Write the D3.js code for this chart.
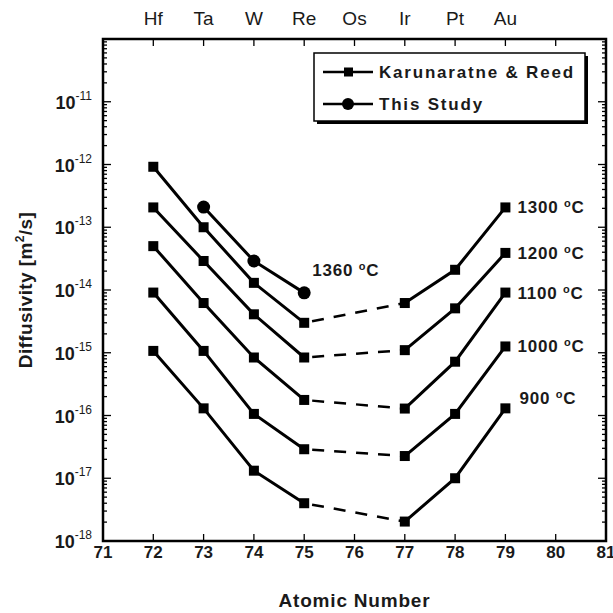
<!DOCTYPE html>
<html>
<head>
<meta charset="utf-8">
<script src="https://cdn.jsdelivr.net/npm/d3@7"></script>
<style>
  html, body { margin: 0; padding: 0; background: #fff; }
  svg { display: block; font-family: "Liberation Sans", Arial, sans-serif; }
</style>
</head>
<body>
<svg id="chart" width="613" height="613"></svg>
<script>
// Atomic numbers measured (Os, 76, has no data)
const atomicNumbers = [72, 73, 74, 75, 77, 78, 79];
// Diffusivity (m^2/s), Karunaratne & Reed, by temperature
const d1300 = [9.2e-13, 1.0e-13, 1.3e-14, 3.0e-15, 6.2e-15, 2.1e-14, 2.07e-13];
const d1200 = [2.07e-13, 2.9e-14, 4.1e-15, 8.4e-16, 1.1e-15, 5.1e-15, 3.9e-14];
const d1100 = [5.0e-14, 6.2e-15, 8.4e-16, 1.77e-16, 1.29e-16, 7.2e-16, 9.1e-15];
const d1000 = [9.1e-15, 1.07e-15, 1.06e-16, 2.9e-17, 2.26e-17, 1.06e-16, 1.26e-15];
const d900  = [1.07e-15, 1.3e-16, 1.32e-17, 4.0e-18, 2.04e-18, 1.0e-17, 1.3e-16];
const seriesLabels = ["1300", "1200", "1100", "1000", "900"];
// This study, 1360 °C
const studyNumbers = [73, 74, 75];
const d1360 = [2.1e-13, 2.9e-14, 9.0e-15];
const studyLabel = "1360";
// Element symbols for the top axis
const elementNumbers = [72, 73, 74, 75, 76, 77, 78, 79];
const elementSymbols = ["Hf", "Ta", "W", "Re", "Os", "Ir", "Pt", "Au"];
// Axis ticks
const xTicks = [71, 72, 73, 74, 75, 76, 77, 78, 79, 80, 81];
const yExponents = [-11, -12, -13, -14, -15, -16, -17, -18];
const legendLabels = ["Karunaratne & Reed", "This Study"];

const svg = d3.select("#chart");
const plotLeft = 103, plotRight = 606, plotTop = 39, plotBottom = 541;
const textColor = "#1a1a1a";

const x = d3.scaleLinear().domain([71, 81]).range([plotLeft, plotRight]);
const y = d3.scaleLog().domain([1e-18, 1e-10]).range([plotBottom, plotTop]);

// Minor and major log ticks on the left and right frame edges
const minorVals = [];
for (let e = -18; e < -10; e++) {
  for (let m = 2; m <= 9; m++) minorVals.push(m * Math.pow(10, e));
}
const majorVals = d3.range(-18, -9).map(e => Math.pow(10, e));

const tickG = svg.append("g").attr("stroke", "#000").attr("stroke-width", 1.3);
[plotLeft, plotRight].forEach(edge => {
  const dir = edge === plotLeft ? 1 : -1;
  tickG.selectAll(null).data(minorVals).join("line")
    .attr("x1", edge).attr("x2", edge + dir * 4)
    .attr("y1", d => y(d)).attr("y2", d => y(d));
  tickG.selectAll(null).data(majorVals).join("line")
    .attr("x1", edge).attr("x2", edge + dir * 8)
    .attr("y1", d => y(d)).attr("y2", d => y(d));
});
// Integer ticks along the top and bottom edges
tickG.selectAll(null).data(xTicks).join("line")
  .attr("x1", d => x(d)).attr("x2", d => x(d))
  .attr("y1", plotBottom).attr("y2", plotBottom - 7);
tickG.selectAll(null).data(xTicks).join("line")
  .attr("x1", d => x(d)).attr("x2", d => x(d))
  .attr("y1", plotTop).attr("y2", plotTop + 7);

// Frame
svg.append("rect")
  .attr("x", plotLeft).attr("y", plotTop)
  .attr("width", plotRight - plotLeft).attr("height", plotBottom - plotTop)
  .attr("fill", "none").attr("stroke", "#000").attr("stroke-width", 2.5);

// Bottom tick labels
svg.append("g").selectAll("text").data(xTicks).join("text")
  .attr("x", d => x(d)).attr("y", 558)
  .attr("text-anchor", "middle")
  .attr("font-size", 17).attr("font-weight", "bold").attr("fill", textColor)
  .text(d => d);

// Element symbols on top
svg.append("g").selectAll("text").data(elementNumbers).join("text")
  .attr("x", d => x(d)).attr("y", 25)
  .attr("text-anchor", "middle")
  .attr("font-size", 19).attr("fill", textColor)
  .text((d, i) => elementSymbols[i]);

// Left tick labels: 10^n
const yl = svg.append("g").selectAll("text").data(yExponents).join("text")
  .attr("x", 92).attr("y", d => y(Math.pow(10, d)) + 7)
  .attr("text-anchor", "end")
  .attr("font-size", 18).attr("font-weight", "bold").attr("fill", textColor);
yl.append("tspan").text("10");
yl.append("tspan").attr("font-size", 12).attr("font-weight", "normal")
  .attr("dy", -9).text(d => d);

// Axis titles
svg.append("text")
  .attr("x", (plotLeft + plotRight) / 2).attr("y", 607)
  .attr("text-anchor", "middle")
  .attr("font-size", 19).attr("font-weight", "bold").attr("fill", textColor)
  .attr("letter-spacing", 0.8)
  .text("Atomic Number");
const yt = svg.append("text")
  .attr("transform", "translate(32,290) rotate(-90)")
  .attr("text-anchor", "middle")
  .attr("font-size", 19).attr("font-weight", "bold").attr("fill", textColor)
  .attr("letter-spacing", 0.4);
yt.append("tspan").text("Diffusivity [m");
yt.append("tspan").attr("font-size", 12).attr("dy", -8).text("2");
yt.append("tspan").attr("dy", 8).text("/s]");

// Temperature label: value, then a raised small "o" and C
function tempLabel(g, tx, ty, value) {
  const t = g.append("text").attr("x", tx).attr("y", ty)
    .attr("font-size", 17).attr("font-weight", "bold").attr("fill", textColor)
    .attr("letter-spacing", 0.8);
  t.append("tspan").text(value + " ");
  t.append("tspan").attr("font-size", 11).attr("dy", -6).text("o");
  t.append("tspan").attr("dy", 6).text("C");
}

// Data series
const allSeries = [d1300, d1200, d1100, d1000, d900];
const line = d3.line().x(d => x(d[0])).y(d => y(d[1]));
const plot = svg.append("g");

allSeries.forEach((vals, si) => {
  const pts = atomicNumbers.map((z, i) => [z, vals[i]]);
  const leftPart = pts.filter(p => p[0] <= 75);
  const rightPart = pts.filter(p => p[0] >= 77);
  const gap = pts.filter(p => p[0] === 75 || p[0] === 77);
  plot.append("path").attr("d", line(leftPart))
    .attr("fill", "none").attr("stroke", "#000").attr("stroke-width", 3);
  plot.append("path").attr("d", line(rightPart))
    .attr("fill", "none").attr("stroke", "#000").attr("stroke-width", 3);
  plot.append("path").attr("d", line(gap))
    .attr("fill", "none").attr("stroke", "#000").attr("stroke-width", 2.5)
    .attr("stroke-dasharray", "12,10").attr("stroke-dashoffset", -8);
  plot.selectAll(null).data(pts).join("rect")
    .attr("x", d => x(d[0]) - 5).attr("y", d => y(d[1]) - 5)
    .attr("width", 10).attr("height", 10).attr("fill", "#000");
  // Temperature label beside the Au point
  const last = pts[pts.length - 1];
  tempLabel(plot, x(last[0]) + (si === 4 ? 14 : 12), y(last[1]) + (si === 4 ? -4 : 6), seriesLabels[si]);
});

// This study
const studyPts = studyNumbers.map((z, i) => [z, d1360[i]]);
plot.append("path").attr("d", line(studyPts))
  .attr("fill", "none").attr("stroke", "#000").attr("stroke-width", 3);
plot.selectAll(null).data(studyPts).join("circle")
  .attr("cx", d => x(d[0])).attr("cy", d => y(d[1])).attr("r", 6.5).attr("fill", "#000");
const lastStudy = studyPts[studyPts.length - 1];
tempLabel(plot, x(lastStudy[0]) + 8, y(lastStudy[1]) - 17, studyLabel);

// Legend with drop shadow
const lg = svg.append("g");
lg.append("rect").attr("x", 317).attr("y", 56).attr("width", 271).attr("height", 68).attr("fill", "#000");
lg.append("rect").attr("x", 314).attr("y", 53).attr("width", 271).attr("height", 68)
  .attr("fill", "#fff").attr("stroke", "#000").attr("stroke-width", 1.5);
legendLabels.forEach((lbl, i) => {
  const ly = 72 + i * 32;
  lg.append("line").attr("x1", 323).attr("x2", 373).attr("y1", ly).attr("y2", ly)
    .attr("stroke", "#000").attr("stroke-width", 2.5);
  if (i === 0) {
    lg.append("rect").attr("x", 344).attr("y", ly - 4.5).attr("width", 9).attr("height", 9).attr("fill", "#000");
  } else {
    lg.append("circle").attr("cx", 348).attr("cy", ly).attr("r", 6).attr("fill", "#000");
  }
  lg.append("text").attr("x", 379).attr("y", ly + 6)
    .attr("font-size", 17).attr("font-weight", "bold").attr("fill", textColor)
    .attr("letter-spacing", 1.8)
    .text(lbl);
});
</script>
</body>
</html>
